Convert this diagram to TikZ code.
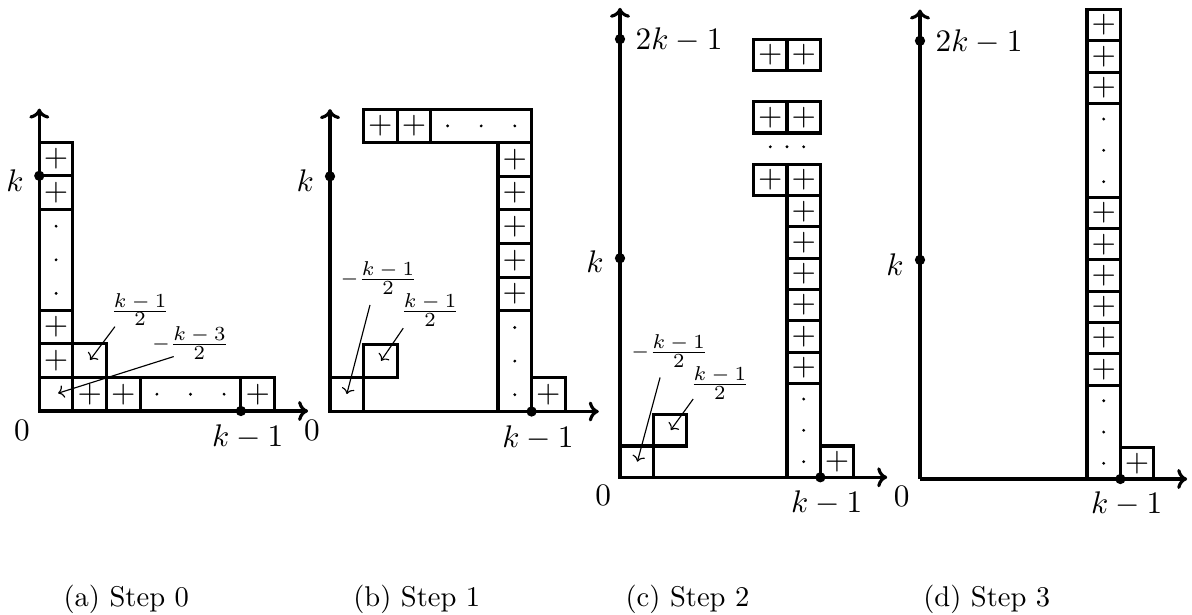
\documentclass[tikz,border=0pt]{standalone}
\usetikzlibrary{arrows.meta}
\tikzset{
  axis/.style={line width=1.1pt,-{To[length=3.5pt,width=7pt]}},
  cellbox/.style={draw,line width=1.1pt},
  plussign/.style={inner sep=0pt,font=\fontsize{10.95}{13}\selectfont},
  dotmark/.style={fill,circle,inner sep=0pt,minimum size=3.6pt},
  pointer/.style={line width=0.4pt,-{To[length=2pt,width=4.5pt]}},
  lbl/.style={inner sep=0pt,font=\fontsize{10.95}{13}\selectfont},
  fraclbl/.style={inner sep=0pt,font=\fontsize{7.3}{9}\selectfont},
  capt/.style={anchor=base west,inner sep=0pt}
}
\newcommand\myfr[2]{\frac{\textstyle #1}{\textstyle #2}}
\newcommand\pcell[3]{%
  \draw[cellbox] (#2,#3) rectangle ++(1,1);
  \node[plussign] (#1-p-#2-#3) at ({#2+0.5},{#3+0.5}) {$+$};}
\newcommand\ecell[2]{\draw[cellbox] (#1,#2) rectangle ++(1,1);}
\newcommand\vdotbox[2]{\draw[cellbox] (#1,#2) rectangle ++(1,3);
  \foreach \i in {0.5,1.5,2.5}{\fill ({#1+0.5},{#2+\i}) circle (0.55pt);}}
\newcommand\hdotbox[2]{\draw[cellbox] (#1,#2) rectangle ++(3,1);
  \foreach \i in {0.5,1.5,2.5}{\fill ({#1+\i},{#2+0.5}) circle (0.55pt);}}
\begin{document}
\begin{tikzpicture}[x=0.35pt,y=-0.35pt]
\useasboundingbox (0,0) rectangle (1192,615);

% ---------------- panel (a)
\begin{scope}[shift={(39.3,411)},x=11.76pt,y=11.76pt]
  \ecell{0}{0}
  \pcell{a}{0}{1}
  \pcell{a}{0}{2}
  \vdotbox{0}{3}
  \pcell{a}{0}{6}
  \pcell{a}{0}{7}
  \pcell{a}{1}{0}
  \pcell{a}{2}{0}
  \hdotbox{3}{0}
  \pcell{a}{6}{0}
  \ecell{1}{1}
  \coordinate (a-o) at (0,0);
  \coordinate (a-x) at (8,0);
  \coordinate (a-y) at (0,9);
  \draw[axis] (a-o) -- (a-x);
  \draw[axis] (a-o) -- (a-y);
  \node[dotmark] (a-k) at (0,7) {};
  \node[dotmark] (a-km) at (6,0) {};
  \node[lbl] (a-l0) at (-0.52,-0.57) {$0$};
  \node[lbl] (a-lk) at (-0.72,6.87) {$k$};
  \node[lbl] (a-lkm) at (6.2,-0.77) {$k-1$};
  \node[fraclbl] (a-f1) at (3.0,3.02) {$\myfr{k-1}{2}$};
  \node[fraclbl] (a-f2) at (4.5,2.03) {$-\myfr{k-3}{2}$};
  \coordinate (a-s1) at (2.25,2.51);
  \coordinate (a-t1) at (1.51,1.52);
  \coordinate (a-s2) at (4.0,1.62);
  \coordinate (a-t2) at (0.56,0.53);
  \draw[pointer] (a-s1) -- (a-t1);
  \draw[pointer] (a-s2) -- (a-t2);
\end{scope}

% ---------------- panel (b)
\begin{scope}[shift={(330,411.5)},x=11.76pt,y=11.76pt]
  \ecell{0}{0}
  \ecell{1}{1}
  \pcell{b}{1}{8}
  \pcell{b}{2}{8}
  \hdotbox{3}{8}
  \pcell{b}{5}{7}
  \pcell{b}{5}{6}
  \pcell{b}{5}{5}
  \pcell{b}{5}{4}
  \pcell{b}{5}{3}
  \vdotbox{5}{0}
  \pcell{b}{6}{0}
  \coordinate (b-o) at (0,0);
  \coordinate (b-x) at (8,0);
  \coordinate (b-y) at (0,9);
  \draw[axis] (b-o) -- (b-x);
  \draw[axis] (b-o) -- (b-y);
  \node[dotmark] (b-k) at (0,7) {};
  \node[dotmark] (b-km) at (6,0) {};
  \node[lbl] (b-l0) at (-0.54,-0.57) {$0$};
  \node[lbl] (b-lk) at (-0.74,6.87) {$k$};
  \node[lbl] (b-lkm) at (6.19,-0.8) {$k-1$};
  \node[fraclbl] (b-f1) at (1.46,3.98) {$-\myfr{k-1}{2}$};
  \node[fraclbl] (b-f2) at (2.98,3.02) {$\myfr{k-1}{2}$};
  \coordinate (b-s1) at (1.19,3.17);
  \coordinate (b-t1) at (0.5,0.52);
  \coordinate (b-s2) at (2.18,2.48);
  \coordinate (b-t2) at (1.52,1.51);
  \draw[pointer] (b-s1) -- (b-t1);
  \draw[pointer] (b-s2) -- (b-t2);
\end{scope}

% ---------------- panel (c)
\begin{scope}[shift={(620,477.3)},x=11.69pt,y=10.955pt]
  \ecell{0}{0}
  \ecell{1}{1}
  \vdotbox{5}{0}
  \foreach \r in {3,...,8}{\pcell{c}{5}{\r}}
  \pcell{c}{4}{9}
  \pcell{c}{5}{9}
  \pcell{c}{4}{11}
  \pcell{c}{5}{11}
  \pcell{c}{4}{13}
  \pcell{c}{5}{13}
  \foreach \i in {4.5,5,5.5}{\fill (\i,10.56) circle (0.55pt);}
  \pcell{c}{6}{0}
  \coordinate (c-o) at (0,0);
  \coordinate (c-x) at (8,0);
  \coordinate (c-y) at (0,15);
  \draw[axis] (c-o) -- (c-x);
  \draw[axis] (c-o) -- (c-y);
  \node[dotmark] (c-k) at (0,7) {};
  \node[dotmark] (c-kk) at (0,14) {};
  \node[dotmark] (c-km) at (6,0) {};
  \node[lbl] (c-l0) at (-0.5,-0.57) {$0$};
  \node[lbl] (c-lk) at (-0.75,6.89) {$k$};
  \node[lbl] (c-lkk) at (1.77,13.97) {$2k-1$};
  \node[lbl] (c-lkm) at (6.19,-0.83) {$k-1$};
  \node[fraclbl] (c-f1) at (1.49,4.03) {$-\myfr{k-1}{2}$};
  \node[fraclbl] (c-f2) at (2.99,3.02) {$\myfr{k-1}{2}$};
  \coordinate (c-s1) at (1.2,3.19);
  \coordinate (c-t1) at (0.52,0.5);
  \coordinate (c-s2) at (2.19,2.5);
  \coordinate (c-t2) at (1.52,1.51);
  \draw[pointer] (c-s1) -- (c-t1);
  \draw[pointer] (c-s2) -- (c-t2);
\end{scope}

% ---------------- panel (d)
\begin{scope}[shift={(920,479)},x=11.69pt,y=10.955pt]
  \vdotbox{5}{0}
  \foreach \r in {3,...,8}{\pcell{d}{5}{\r}}
  \vdotbox{5}{9}
  \pcell{d}{5}{12}
  \pcell{d}{5}{13}
  \pcell{d}{5}{14}
  \pcell{d}{6}{0}
  \coordinate (d-o) at (0,0);
  \coordinate (d-x) at (8,0);
  \coordinate (d-y) at (0,15);
  \draw[axis] (d-o) -- (d-x);
  \draw[axis] (d-o) -- (d-y);
  \node[dotmark] (d-k) at (0,7) {};
  \node[dotmark] (d-kk) at (0,14) {};
  \node[dotmark] (d-km) at (6,0) {};
  \node[lbl] (d-l0) at (-0.55,-0.57) {$0$};
  \node[lbl] (d-lk) at (-0.75,6.86) {$k$};
  \node[lbl] (d-lkk) at (1.77,13.97) {$2k-1$};
  \node[lbl] (d-lkm) at (6.19,-0.8) {$k-1$};
\end{scope}

% ---------------- captions
\node[capt] (capa) at (63,606) {(a) Step 0};
\node[capt] (capb) at (352.7,606) {(b) Step 1};
\node[capt] (capc) at (625,606) {(c) Step 2};
\node[capt] (capd) at (922.7,606) {(d) Step 3};
\end{tikzpicture}
\end{document}
